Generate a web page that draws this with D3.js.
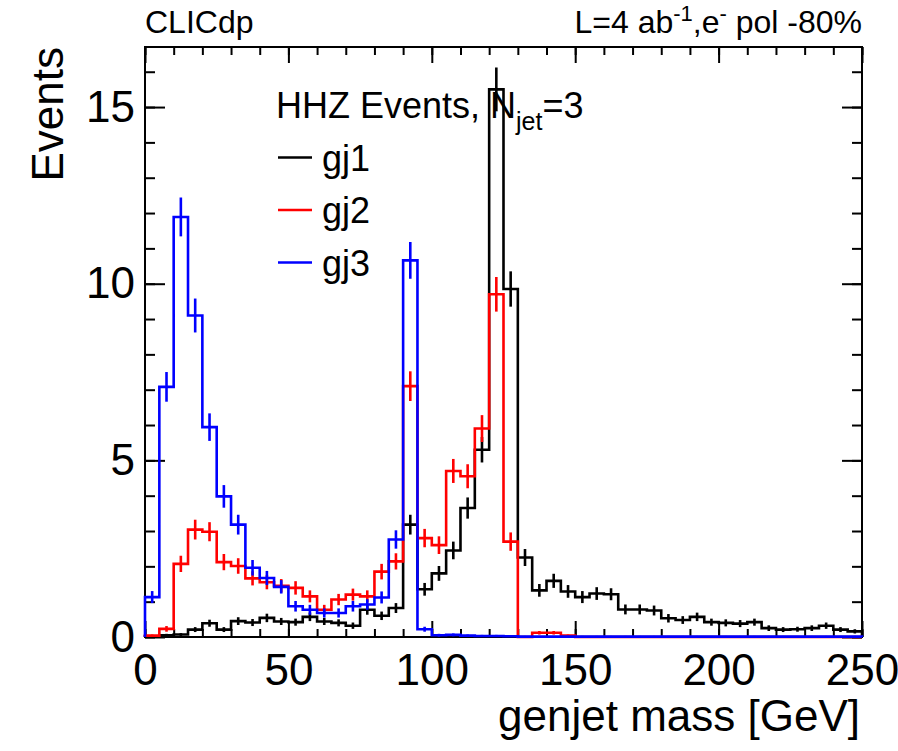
<!DOCTYPE html>
<html>
<head>
<meta charset="utf-8">
<script src="https://cdn.jsdelivr.net/npm/d3@7"></script>
<style>
  body { margin: 0; background: #fff; }
  svg text { font-family: "Liberation Sans", Arial, Helvetica, sans-serif; }
</style>
</head>
<body>
<svg id="chart"></svg>
<script>
// histogram binning (GeV)
const xMin = 0, xMax = 250, binWidth = 5;

// gj1 (black)
const gj1Values = [0.02,0.05,0.07,0.21,0.39,0.21,0.45,0.41,0.54,0.44,
                   0.42,0.57,0.44,0.40,0.32,0.77,0.60,0.82,3.18,1.35,
                   1.80,2.45,3.65,5.30,15.5,9.85,2.25,1.32,1.59,1.29,
                   1.13,1.23,1.21,0.78,0.78,0.75,0.53,0.48,0.57,0.42,
                   0.40,0.38,0.42,0.25,0.21,0.22,0.25,0.32,0.21,0.16];
const gj1Errors = [0.02,0.04,0.04,0.07,0.10,0.07,0.11,0.10,0.12,0.10,
                   0.10,0.12,0.10,0.10,0.09,0.14,0.12,0.14,0.28,0.18,
                   0.21,0.25,0.30,0.36,0.62,0.50,0.24,0.18,0.20,0.18,
                   0.17,0.18,0.17,0.14,0.14,0.14,0.12,0.11,0.12,0.10,
                   0.10,0.10,0.10,0.08,0.07,0.07,0.08,0.09,0.07,0.06];

// gj2 (red)
const gj2Values = [0.04,0.23,2.07,3.04,2.98,2.12,2.01,1.66,1.55,1.45,
                   1.39,1.15,0.77,1.06,1.20,1.15,1.85,2.14,7.10,2.80,
                   2.60,4.70,4.55,5.90,9.70,2.70,0,0.12,0.12,0.04,
                   0,0,0,0,0,0,0,0,0,0,
                   0,0,0,0,0,0,0,0,0,0];
const gj2Errors = [0.03,0.08,0.23,0.28,0.27,0.23,0.22,0.20,0.20,0.19,
                   0.19,0.17,0.14,0.16,0.17,0.17,0.22,0.23,0.42,0.26,
                   0.25,0.34,0.34,0.38,0.49,0.26,0,0.05,0.05,0.03,
                   0,0,0,0,0,0,0,0,0,0,
                   0,0,0,0,0,0,0,0,0,0];

// gj3 (blue)
const gj3Values = [1.13,7.08,11.89,9.10,5.94,3.98,3.18,1.96,1.67,1.42,
                   0.87,0.77,0.68,0.68,0.87,0.92,1.12,2.76,10.66,0.22,
                   0.05,0.06,0.04,0.03,0.03,0.02,0.01,0.01,0.01,0.01,
                   0.01,0.01,0.01,0.01,0.01,0.01,0.01,0.01,0.01,0.01,
                   0.01,0.01,0.01,0.01,0.01,0.01,0.01,0.01,0.01,0.01];
const gj3Errors = [0.17,0.42,0.55,0.48,0.39,0.32,0.28,0.22,0.20,0.19,
                   0.15,0.14,0.13,0.13,0.15,0.15,0.17,0.26,0.52,0.07,
                   0.04,0.04,0.03,0.03,0.03,0.02,0.02,0.02,0.02,0.02,
                   0.02,0.02,0.02,0.02,0.02,0.02,0.02,0.02,0.02,0.02,
                   0.02,0.02,0.02,0.02,0.02,0.02,0.02,0.02,0.02,0.02];

const seriesNames = ["gj1", "gj2", "gj3"];
const seriesColors = ["#000000", "#ff0000", "#0000ff"];

const xMajorTicks = [0, 50, 100, 150, 200, 250];
const yMajorTicks = [0, 5, 10, 15];
const yMax = 16.7;

// layout
const W = 898, H = 751;
const padL = 145, padR = 862, padT = 47, padB = 637;

const svg = d3.select("#chart").attr("width", W).attr("height", H);

const x = d3.scaleLinear().domain([xMin, xMax]).range([padL, padR]);
const y = d3.scaleLinear().domain([0, yMax]).range([padB, padT]);

const xMinor = d3.range(xMin, xMax + 1, 10);
const yMinor = d3.range(0, Math.floor(yMax) + 1, 1);

// axes, ticks inside the frame
function styleAxis(g) {
    g.select(".domain").remove();
    g.selectAll("line").attr("stroke", "#000").attr("stroke-width", 2);
    g.selectAll("text").attr("font-size", 44).attr("fill", "#000");
}

svg.append("g").attr("transform", `translate(0,${padB})`)
    .call(d3.axisBottom(x).tickValues(xMinor).tickSize(-8).tickFormat(""))
    .call(styleAxis);
svg.append("g").attr("transform", `translate(0,${padB})`)
    .call(d3.axisBottom(x).tickValues(xMajorTicks).tickSize(-16).tickPadding(17).tickFormat(d3.format("d")))
    .call(styleAxis);
svg.append("g").attr("transform", `translate(0,${padT})`)
    .call(d3.axisTop(x).tickValues(xMinor).tickSize(-8).tickFormat(""))
    .call(styleAxis);
svg.append("g").attr("transform", `translate(0,${padT})`)
    .call(d3.axisTop(x).tickValues(xMajorTicks).tickSize(-16).tickFormat(""))
    .call(styleAxis);

svg.append("g").attr("transform", `translate(${padL},0)`)
    .call(d3.axisLeft(y).tickValues(yMinor).tickSize(-10).tickFormat(""))
    .call(styleAxis);
svg.append("g").attr("transform", `translate(${padL},0)`)
    .call(d3.axisLeft(y).tickValues(yMajorTicks).tickSize(-20).tickPadding(10).tickFormat(d3.format("d")))
    .call(styleAxis);
svg.append("g").attr("transform", `translate(${padR},0)`)
    .call(d3.axisRight(y).tickValues(yMinor).tickSize(-10).tickFormat(""))
    .call(styleAxis);
svg.append("g").attr("transform", `translate(${padR},0)`)
    .call(d3.axisRight(y).tickValues(yMajorTicks).tickSize(-20).tickFormat(""))
    .call(styleAxis);

// frame
svg.append("rect")
    .attr("x", padL).attr("y", padT)
    .attr("width", padR - padL).attr("height", padB - padT)
    .attr("fill", "none").attr("stroke", "#000").attr("stroke-width", 2);

// histograms
const allValues = [gj1Values, gj2Values, gj3Values];
const allErrors = [gj1Errors, gj2Errors, gj3Errors];

allValues.forEach((vals, s) => {
    const pts = [[xMin, 0]];
    vals.forEach((v, i) => {
        pts.push([xMin + i * binWidth, v]);
        pts.push([xMin + (i + 1) * binWidth, v]);
    });
    pts.push([xMax, 0]);

    svg.append("path")
        .datum(pts)
        .attr("d", d3.line().x(d => x(d[0])).y(d => y(d[1])))
        .attr("fill", "none")
        .attr("stroke", seriesColors[s])
        .attr("stroke-width", 2.6)
        .attr("stroke-linejoin", "miter");

    svg.append("g").selectAll("line")
        .data(vals.map((v, i) => ({ v, e: allErrors[s][i], c: xMin + (i + 0.5) * binWidth })))
        .enter().append("line")
        .attr("x1", d => x(d.c)).attr("x2", d => x(d.c))
        .attr("y1", d => y(Math.max(0, d.v - d.e)))
        .attr("y2", d => y(Math.min(yMax, d.v + d.e)))
        .attr("stroke", seriesColors[s])
        .attr("stroke-width", 2.6);
});

// axis titles
svg.append("text")
    .attr("x", padR - 2).attr("y", 731)
    .attr("text-anchor", "end")
    .attr("font-size", 44)
    .text("genjet mass [GeV]");

svg.append("text")
    .attr("transform", `translate(63,${padT}) rotate(-90)`)
    .attr("text-anchor", "end")
    .attr("font-size", 44)
    .text("Events");

// header texts
svg.append("text")
    .attr("x", padL).attr("y", 33)
    .attr("font-size", 32)
    .text("CLICdp");

const lumi = svg.append("text")
    .attr("x", padR).attr("y", 33)
    .attr("text-anchor", "end")
    .attr("font-size", 32);
lumi.append("tspan").text("L=4 ab");
lumi.append("tspan").attr("dy", -12).attr("font-size", 22).text("-1");
lumi.append("tspan").attr("dy", 12).text(",e");
lumi.append("tspan").attr("dy", -12).attr("font-size", 22).text("-");
lumi.append("tspan").attr("dy", 12).text(" pol -80%");

// legend
const legX = 276, legY0 = 105, legDy = 52.5;
const title = svg.append("text")
    .attr("x", legX).attr("y", legY0 + 13)
    .attr("font-size", 36);
title.append("tspan").text("HHZ Events, N");
title.append("tspan").attr("dy", 12).attr("font-size", 25).text("jet");
title.append("tspan").attr("dy", -12).text("=3");

seriesNames.forEach((name, s) => {
    const cy = legY0 + (s + 1) * legDy;
    svg.append("line")
        .attr("x1", legX + 2).attr("x2", legX + 36)
        .attr("y1", cy).attr("y2", cy)
        .attr("stroke", seriesColors[s]).attr("stroke-width", 2.6);
    svg.append("text")
        .attr("x", legX + 46).attr("y", cy + 13)
        .attr("font-size", 36)
        .text(name);
});
</script>
</body>
</html>
